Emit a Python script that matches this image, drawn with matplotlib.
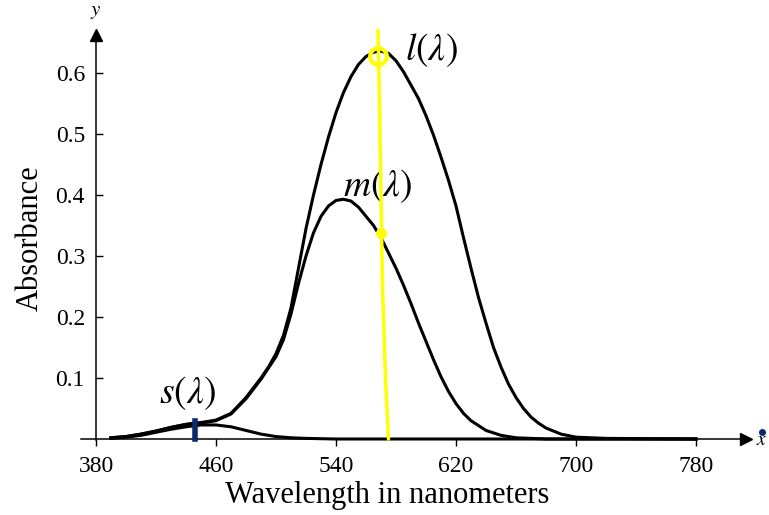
import numpy as np
import matplotlib
matplotlib.use("Agg")
import matplotlib.pyplot as plt

plt.rcParams['font.family'] = ['Liberation Serif', 'DejaVu Serif']

# absorbance curves
l_nm = [390, 400, 410, 420, 430, 440, 450, 460, 470, 480, 490, 495, 500, 505, 510, 515,
        520, 525, 530, 535, 540, 545, 550, 555, 560, 565, 570, 575, 580, 585, 590, 595,
        600, 605, 610, 615, 620, 625, 630, 635, 640, 645, 650, 655, 660, 665, 670, 675,
        680, 690, 700, 720, 780]
l_abs = [0.002, 0.004, 0.008, 0.013, 0.019, 0.024, 0.027, 0.031, 0.042, 0.068, 0.100, 0.118,
         0.140, 0.170, 0.215, 0.280, 0.345, 0.400, 0.450, 0.495, 0.535, 0.568, 0.594, 0.614,
         0.627, 0.634, 0.636, 0.632, 0.620, 0.602, 0.580, 0.558, 0.530, 0.498, 0.462, 0.424,
         0.382, 0.330, 0.280, 0.232, 0.190, 0.150, 0.118, 0.090, 0.068, 0.050, 0.036, 0.026,
         0.018, 0.008, 0.003, 0.001, 0.0]

m_nm = [390, 400, 410, 420, 430, 440, 450, 460, 470, 480, 490, 500, 505, 510, 515, 520,
        525, 530, 535, 540, 545, 550, 555, 560, 565, 570, 575, 580, 585, 590, 595, 600,
        605, 610, 615, 620, 625, 630, 640, 650, 660, 680, 780]
m_abs = [0.002, 0.004, 0.008, 0.013, 0.019, 0.024, 0.026, 0.030, 0.041, 0.066, 0.098, 0.135,
         0.163, 0.205, 0.255, 0.300, 0.338, 0.365, 0.382, 0.391, 0.393, 0.390, 0.380, 0.365,
         0.350, 0.330, 0.305, 0.280, 0.252, 0.222, 0.190, 0.160, 0.130, 0.102, 0.078, 0.058,
         0.042, 0.030, 0.014, 0.006, 0.002, 0.0, 0.0]

s_nm = [390, 400, 410, 420, 430, 440, 450, 460, 470, 480, 490, 500, 510, 520, 540, 780]
s_abs = [0.001, 0.003, 0.006, 0.011, 0.016, 0.020, 0.023, 0.023, 0.020, 0.014, 0.008, 0.004,
         0.002, 0.001, 0.0, 0.0]

x_ticks = [380, 460, 540, 620, 700, 780]
y_ticks = [0.1, 0.2, 0.3, 0.4, 0.5, 0.6]

# hand-drawn marks on top of the figure
yellow_nm = [568, 569, 570, 571, 573, 575]
yellow_y = [0.67, 0.55, 0.40, 0.25, 0.10, 0.0]
blue_nm = 446

fig = plt.figure(figsize=(7.69, 5.15), dpi=100)
ax = fig.add_axes([66 / 769, (515 - 451.2) / 515, 705 / 769, 448.4 / 515])
ax.set_xlim(360, 830)
ax.set_ylim(-0.02, 0.715)

for sp in ['top', 'right']:
    ax.spines[sp].set_visible(False)
ax.spines['bottom'].set_position(('data', 0))
ax.spines['left'].set_position(('data', 380))
ax.spines['bottom'].set_bounds(370, 812)
ax.spines['left'].set_bounds(-0.002, 0.66)
ax.spines['bottom'].set_linewidth(1.1)
ax.spines['left'].set_linewidth(1.1)
ax.plot(813, 0, marker='>', color='k', ms=9, clip_on=False)
ax.plot(380, 0.662, marker='^', color='k', ms=9, clip_on=False)

ax.set_xticks(x_ticks)
ax.set_yticks(y_ticks)
ax.set_yticklabels(['%.1f' % v for v in y_ticks])
ax.tick_params(axis='x', direction='out', length=5, width=1, pad=7, labelsize=17)
ax.tick_params(axis='y', direction='in', length=5, width=1, pad=8, labelsize=17)

ax.plot(l_nm, l_abs, color='k', lw=2.2)
ax.plot(m_nm, m_abs, color='k', lw=2.2)
ax.plot(s_nm, s_abs, color='k', lw=2.2)

ax.text(586, 0.638, r'$l(\lambda)$', fontsize=27, ha='left', va='center',
        math_fontfamily='stix')
ax.text(441, 0.075, r'$s(\lambda)$', fontsize=27, ha='center', va='center',
        math_fontfamily='stix')
ax.text(568, 0.415, r'$m(\lambda)$', fontsize=27, ha='center', va='center',
        math_fontfamily='stix')
ax.text(380, 0.70, r'$y$', fontsize=15, ha='center', va='center', math_fontfamily='stix')
ax.text(820, -0.002, r'$x$', fontsize=14, ha='left', va='center', math_fontfamily='stix')

fig.text(30 / 769, 1 - 238 / 515, 'Absorbance', rotation=90, fontsize=22,
         ha='center', va='center')
fig.text(387 / 769, 1 - 495 / 515, 'Wavelength in nanometers', fontsize=22,
         ha='center', va='center')

# yellow annotation
l_i = l_nm.index(570)
m_i = m_nm.index(570)
ax.plot(yellow_nm, yellow_y, color='#ffff00', lw=2.5, solid_capstyle='round', zorder=5)
ax.plot(l_nm[l_i] - 2, l_abs[l_i] - 0.008, marker='o', ms=12, mfc='none',
        mec='#ffff00', mew=3, zorder=6)
ax.plot(m_nm[m_i], m_abs[m_i] + 0.008, marker='o', ms=7, mfc='#ffff00',
        mec='#ffff00', zorder=6)
ax.plot([blue_nm, blue_nm], [0.0, 0.03], color='#0b2a6b', lw=4, zorder=6)
ax.plot(824, 0.012, marker='o', ms=4, color='#0b2a6b', clip_on=False, zorder=6)

fig.savefig('out.png', dpi=100)
